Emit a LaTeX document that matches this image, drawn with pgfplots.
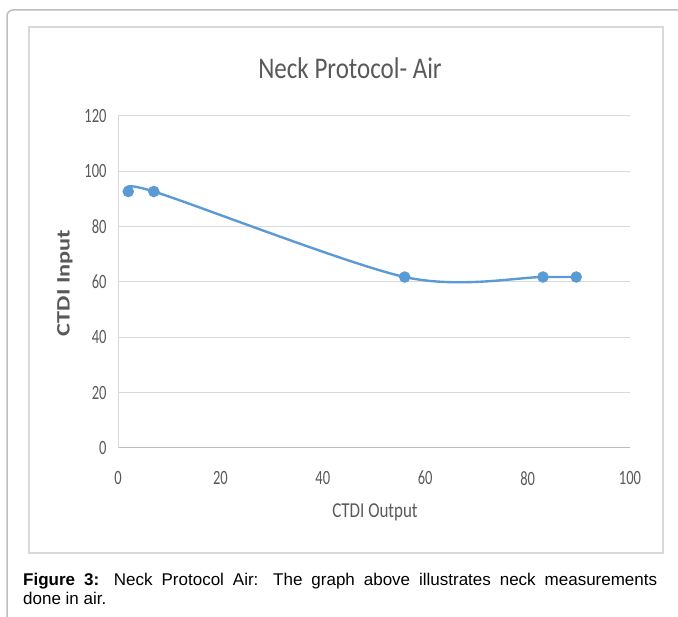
\documentclass[border=0pt]{standalone}
\usepackage{pgfplots}
\pgfplotsset{compat=1.18}
\usepackage{fontspec}
\setmainfont{Carlito}
\newfontfamily\capfont{Liberation Sans}
\definecolor{exblue}{HTML}{5B9BD5}
\definecolor{txtgray}{HTML}{595959}
\definecolor{gridgray}{HTML}{D9D9D9}
\definecolor{framegray}{HTML}{BDBDBD}
\begin{document}
\begin{tikzpicture}[x=1pt,y=1pt]
\path[use as bounding box] (0,0) rectangle (678,617);
% outer frame
\draw[framegray, line width=1.5pt, rounded corners=6pt] (7,0) -- (7,607) -- (678,607);
% inner chart frame
\draw[gridgray, line width=1.3pt] (29,64) rectangle (663,590);
\begin{axis}[
  at={(118pt,169pt)}, anchor=south west,
  scale only axis, width=512pt, height=332pt,
  xmin=0, xmax=100, ymin=0, ymax=120,
  xtick={0,20,...,100}, ytick={0,20,...,120},
  major tick length=0pt,
  axis x line=bottom, axis y line=left,
  axis line style={-},
  x axis line style={draw=framegray, line width=1pt},
  y axis line style={draw=gridgray, line width=1pt},
  ymajorgrids, grid style={gridgray, line width=1pt},
  /pgf/number format/assume math mode=true,
  tick label style={font=\fontsize{14.5}{14.5}\selectfont, text=txtgray, yscale=1.4},
  xticklabel style={yshift=-13pt},
  yticklabel style={xshift=-8pt},
  clip=false,
]
\addplot[exblue, line width=2.4pt, smooth, mark=*, mark size=4.5pt, mark options={fill=exblue, draw=exblue}]
  coordinates {(2,92.7) (7,92.7) (56,61.8) (83,61.8) (89.5,61.8)};
\end{axis}
\node[text=txtgray, font=\fontsize{25}{25}\selectfont, yscale=1.2] at (350,549) {Neck Protocol- Air};
\node[text=txtgray, font=\fontsize{17}{17}\selectfont, yscale=1.25] at (375,105) {CTDI Output};
\node[text=txtgray, font=\bfseries\fontsize{19}{19}\selectfont, rotate=90, xscale=1.28] at (65,334) {CTDI Input};
\node[anchor=north west, inner sep=0pt, text width=634pt, align=justify, font=\capfont\fontsize{17}{18.5}\selectfont] at (23,44)
  {\textbf{Figure 3:} Neck Protocol Air: The graph above illustrates neck measurements\linebreak done in air.};
\end{tikzpicture}
\end{document}
